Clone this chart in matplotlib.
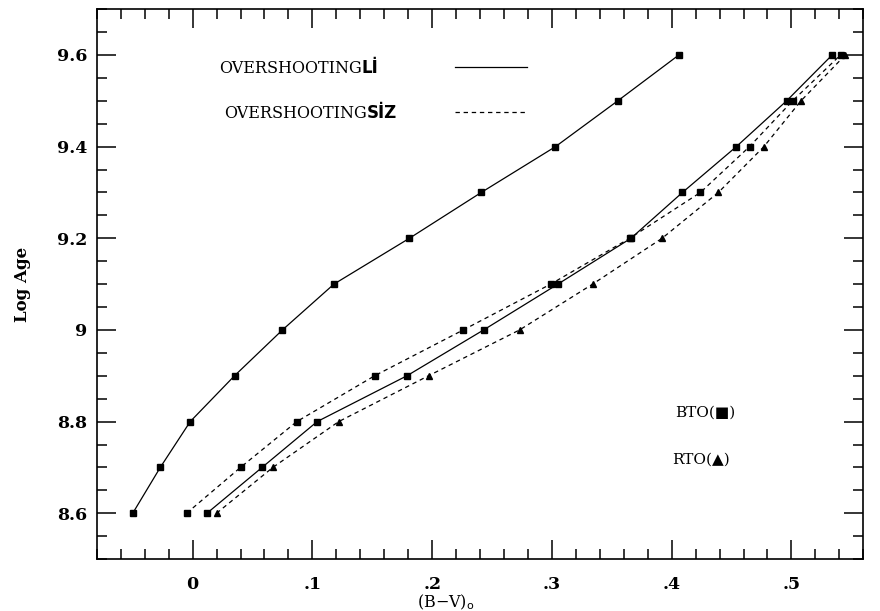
import matplotlib
matplotlib.use('Agg')
import matplotlib.pyplot as plt
from matplotlib.ticker import MultipleLocator, FixedLocator, FixedFormatter

# log age steps shared by every isochrone sequence
log_age = [8.6, 8.7, 8.8, 8.9, 9.0, 9.1, 9.2, 9.3, 9.4, 9.5, 9.6]

# (B-V)o turn-off colours
bv_left_solid = [-0.050, -0.027, -0.002, 0.035, 0.075, 0.118, 0.181, 0.241, 0.303, 0.355, 0.406]
bv_mid_solid = [0.012, 0.058, 0.104, 0.179, 0.243, 0.305, 0.366, 0.409, 0.454, 0.496, 0.534]
bv_dash_bto = [-0.005, 0.040, 0.087, 0.152, 0.226, 0.299, 0.365, 0.424, 0.465, 0.501, 0.541]
bv_dash_rto = [0.020, 0.067, 0.122, 0.197, 0.273, 0.334, 0.392, 0.439, 0.477, 0.508, 0.545]

x_ticks = [0.0, 0.1, 0.2, 0.3, 0.4, 0.5]
x_ticklabels = ['0', '.1', '.2', '.3', '.4', '.5']
y_ticks = [8.6, 8.8, 9.0, 9.2, 9.4, 9.6]
y_ticklabels = ['8.6', '8.8', '9', '9.2', '9.4', '9.6']

plt.rcParams['font.family'] = ['DejaVu Serif', 'DejaVu Sans']

fig = plt.figure(figsize=(8.8, 6.11), dpi=100)
ax = fig.add_axes([0.110, 0.085, 0.871, 0.900])

dash = (0, (3.5, 3.0))
ax.plot(bv_left_solid, log_age, '-', color='black', lw=0.9,
        marker='s', ms=4.5, mfc='black', mec='black')
ax.plot(bv_mid_solid, log_age, '-', color='black', lw=0.9,
        marker='s', ms=4.0, mfc='black', mec='black')
ax.plot(bv_dash_bto, log_age, linestyle=dash, color='black', lw=0.9,
        marker='s', ms=4.5, mfc='black', mec='black')
ax.plot(bv_dash_rto, log_age, linestyle=dash, color='black', lw=0.9,
        marker='^', ms=4.5, mfc='black', mec='black')

ax.set_xlim(-0.08, 0.56)
ax.set_ylim(8.5, 9.7)

ax.xaxis.set_major_locator(FixedLocator(x_ticks))
ax.xaxis.set_major_formatter(FixedFormatter(x_ticklabels))
ax.xaxis.set_minor_locator(MultipleLocator(0.02))
ax.yaxis.set_major_locator(FixedLocator(y_ticks))
ax.yaxis.set_major_formatter(FixedFormatter(y_ticklabels))
ax.yaxis.set_minor_locator(MultipleLocator(0.05))

ax.tick_params(which='both', direction='in', top=True, right=True,
               width=1.1, color='black')
ax.tick_params(which='major', length=13.5, labelsize=12.5)
ax.tick_params(which='minor', length=7)
ax.tick_params(axis='x', which='major', pad=12)
ax.tick_params(axis='y', which='major', pad=7)
for lbl in ax.get_xticklabels() + ax.get_yticklabels():
    lbl.set_fontweight('semibold')
for sp in ax.spines.values():
    sp.set_linewidth(1.2)

ax.set_xlabel(r'(B$-$V)$_\mathrm{o}$', fontsize=11.5)
ax.xaxis.set_label_coords(0.455, -0.061)
ax.set_ylabel('Log Age', fontsize=12, fontweight='semibold')
ax.yaxis.set_label_coords(-0.086, 0.5)

# key for the two model grids
t1 = ax.text(0.022, 9.56, 'OVERSHOOTING', fontsize=11.5, va='baseline', ha='left')
ax.annotate('Lİ', xy=(1, 0), xycoords=t1, va='bottom', ha='left',
            fontsize=12, fontweight='bold', family='DejaVu Sans')
t2 = ax.text(0.026, 9.462, 'OVERSHOOTING', fontsize=11.5, va='baseline', ha='left')
ax.annotate('SİZ', xy=(1, 0), xycoords=t2, va='bottom', ha='left',
            fontsize=12, fontweight='bold', family='DejaVu Sans')
ax.plot([0.219, 0.279], [9.574, 9.574], '-', color='black', lw=0.9)
ax.plot([0.219, 0.279], [9.475, 9.475], linestyle=dash, color='black', lw=0.9)

ax.text(0.403, 8.82, 'BTO(■)', fontsize=11, va='center', ha='left')
ax.text(0.400, 8.718, 'RTO(▲)', fontsize=11, va='center', ha='left')

fig.savefig('out.png', dpi=100)
